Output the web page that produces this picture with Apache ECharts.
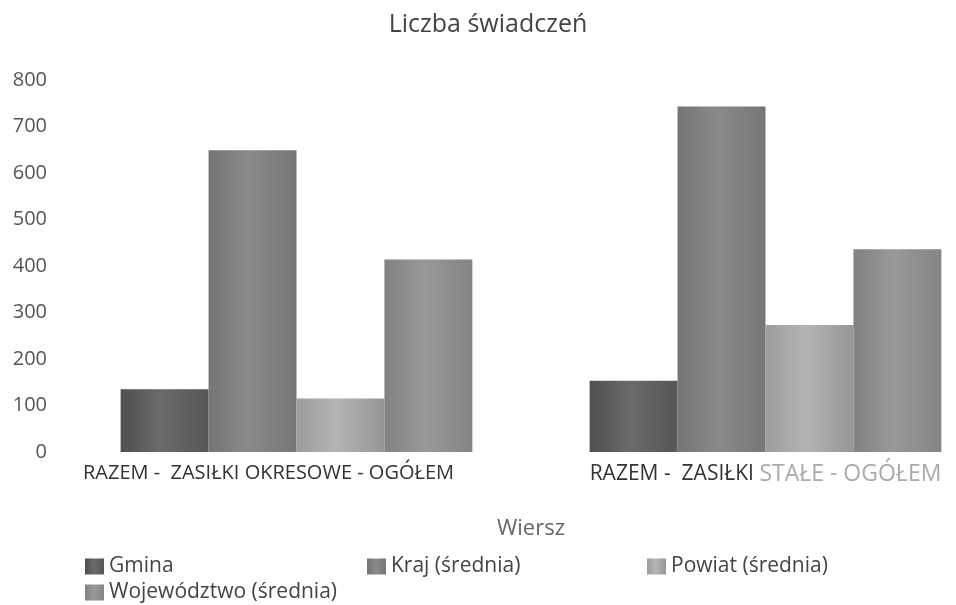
<!DOCTYPE html>
<html>
<head>
<meta charset="utf-8">
<script src="https://cdn.jsdelivr.net/npm/echarts@6/dist/echarts.min.js"></script>
<style>
  html, body { margin: 0; padding: 0; background: #fff; overflow: hidden; }
  /* the plot runs past the right edge in the picture, so the canvas is wider than the window */
  #chart { width: 1000px; height: 605px; }
</style>
</head>
<body>
<div id="chart"></div>
<script>
// data
const categories = ['RAZEM -  ZASIŁKI OKRESOWE - OGÓŁEM', 'RAZEM -  ZASIŁKI STAŁE - OGÓŁEM'];
const seriesNames = ['Gmina', 'Kraj (średnia)', 'Powiat (średnia)', 'Województwo (średnia)'];
const gmina = [135, 153];
const kraj = [649, 743];
const powiat = [115, 273];
const wojewodztwo = [414, 436];
const yTicks = [0, 100, 200, 300, 400, 500, 600, 700, 800];

const seriesData = [gmina, kraj, powiat, wojewodztwo];
// grey shades, with a lighter stripe like the scan
const shades = [
    ['#4f4f4f', '#6a6a6a', '#565656'],
    ['#747474', '#8a8a8a', '#767676'],
    ['#9c9c9c', '#b4b4b4', '#969696'],
    ['#818181', '#999999', '#848484']
];

function stripe(c) {
    return new echarts.graphic.LinearGradient(0, 0, 1, 0, [
        {offset: 0, color: c[0]},
        {offset: 0.45, color: c[1]},
        {offset: 1, color: c[2]}
    ]);
}

const chart = echarts.init(document.getElementById('chart'));

// one legend per item so the columns sit where they do in the picture
const legendPos = [[85, 556], [367, 556], [647, 556], [85, 582]];

chart.setOption({
    animation: false,
    textStyle: {fontFamily: '"Open Sans", "DejaVu Sans", sans-serif'},
    title: {
        text: 'Liczba świadczeń',
        left: 483, top: 7, textAlign: 'center',
        textStyle: {fontSize: 25, fontWeight: 'normal', color: '#444'}
    },
    legend: seriesNames.map((n, i) => ({
        data: [n],
        left: legendPos[i][0], top: legendPos[i][1],
        padding: 0,
        icon: 'rect', itemWidth: 19, itemHeight: 16, itemGap: 0,
        selectedMode: false,
        textStyle: {fontSize: 21, color: '#444'}
    })),
    grid: {left: 62, width: 938, top: 80, height: 372},
    xAxis: {
        type: 'category',
        data: categories,
        name: 'Wiersz',
        nameLocation: 'middle',
        nameGap: 66,
        nameTextStyle: {fontSize: 22, color: '#666'},
        axisLine: {show: false},
        axisTick: {show: false},
        axisLabel: {
            interval: 0,
            hideOverlap: false,
            margin: 11,
            fontSize: 20,
            color: '#333',
            formatter: function (v, i) {
                if (i === 0) return '{a|' + v + '}';
                return '{b|RAZEM -  ZASIŁKI }{c|STAŁE - OGÓŁEM}';
            },
            rich: {
                a: {fontSize: 20, color: '#333', padding: [0, 56, 0, 0]},
                b: {fontSize: 21, color: '#333'},
                c: {fontSize: 23, color: '#aaa'}
            }
        }
    },
    yAxis: {
        type: 'value',
        min: yTicks[0], max: yTicks[yTicks.length - 1], interval: 100,
        axisLine: {show: false},
        axisTick: {show: false},
        splitLine: {show: false},
        axisLabel: {fontSize: 20, color: '#555', margin: 15}
    },
    series: seriesNames.map((n, i) => ({
        name: n,
        type: 'bar',
        data: seriesData[i],
        barGap: '0%',
        barCategoryGap: '25%',
        itemStyle: {color: stripe(shades[i])}
    }))
});
</script>
</body>
</html>
